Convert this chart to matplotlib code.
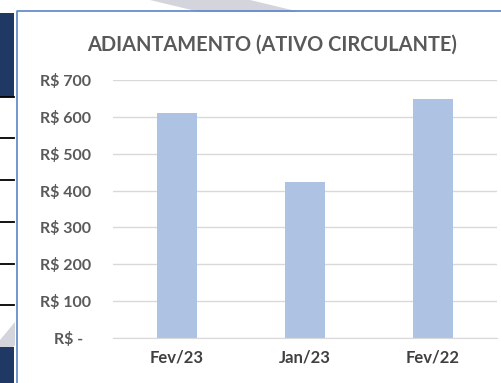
import matplotlib
matplotlib.use("Agg")
import matplotlib.pyplot as plt
from matplotlib.patches import Rectangle, Polygon
from matplotlib.ticker import FixedLocator, FuncFormatter

categories = ["Fev/23", "Jan/23", "Fev/22"]
values = [610, 423, 648]
y_ticks = [0, 100, 200, 300, 400, 500, 600, 700]
title = "ADIANTAMENTO (ATIVO CIRCULANTE)"

W, H = 501, 383
fig = plt.figure(figsize=(W / 100, H / 100), dpi=100)
fig.patch.set_facecolor("white")

def fx(px):
    return px / W

def fy(py):
    return 1 - py / H

# faint diagonal bands in the background
for pts in ([(150, 0), (250, 0), (300, 12), (200, 12)],
            [(0, 340), (15, 322), (15, 345), (0, 360)]):
    fig.add_artist(Polygon([(fx(x), fy(y)) for x, y in pts], closed=True,
                           transform=fig.transFigure, facecolor="#d4d4dc",
                           edgecolor="none", zorder=0))

# left side panel strip
navy = "#1f3864"
fig.add_artist(Rectangle((fx(0), fy(97)), fx(14), 97 / H - 13 / H,
                         transform=fig.transFigure, facecolor=navy, edgecolor="none"))
fig.add_artist(Rectangle((fx(0), fy(383)), fx(14), (383 - 347) / H,
                         transform=fig.transFigure, facecolor=navy, edgecolor="none"))
for yy in (97, 138, 180, 222, 264, 305):
    fig.add_artist(plt.Line2D([fx(0), fx(14)], [fy(yy), fy(yy)],
                              transform=fig.transFigure, color="black", lw=1.3))

# chart frame
fig.add_artist(plt.Line2D([fx(17), fx(17), fx(501)], [fy(383), fy(11), fy(11)],
                          transform=fig.transFigure, color="#5b84c8", lw=1.2))

ax = fig.add_axes([fx(113), fy(338), fx(497) - fx(113), (338 - 80) / H])
ax.set_facecolor("none")

x = range(len(categories))
ax.bar(x, values, width=0.31, color="#aec3e4", zorder=2)
ax.set_xlim(-0.5, len(categories) - 0.5)
ax.set_ylim(0, 700)

ax.yaxis.set_major_locator(FixedLocator(y_ticks))
ax.yaxis.set_major_formatter(FuncFormatter(
    lambda v, p: "R$ -  " if v == 0 else f"R$ {int(v)}"))
ax.set_xticks(list(x))
ax.set_xticklabels(categories)

ax.grid(axis="y", color="#d9d9d9", lw=1, zorder=0)
for s in ("top", "right", "left"):
    ax.spines[s].set_visible(False)
ax.spines["bottom"].set_color("#d9d9d9")
ax.tick_params(axis="both", length=0)
ax.tick_params(axis="y", pad=16, labelsize=11.5, labelcolor="#595959")
ax.tick_params(axis="x", pad=8, labelsize=12, labelcolor="#404040")
for lab in ax.get_yticklabels() + ax.get_xticklabels():
    lab.set_fontfamily("Lato")
    lab.set_fontweight("bold")

fig.text(fx(272), fy(45), title, ha="center", va="center", fontsize=14.4,
         color="#595959", fontfamily="Lato", fontweight="bold")

fig.savefig("out.png", dpi=100)
